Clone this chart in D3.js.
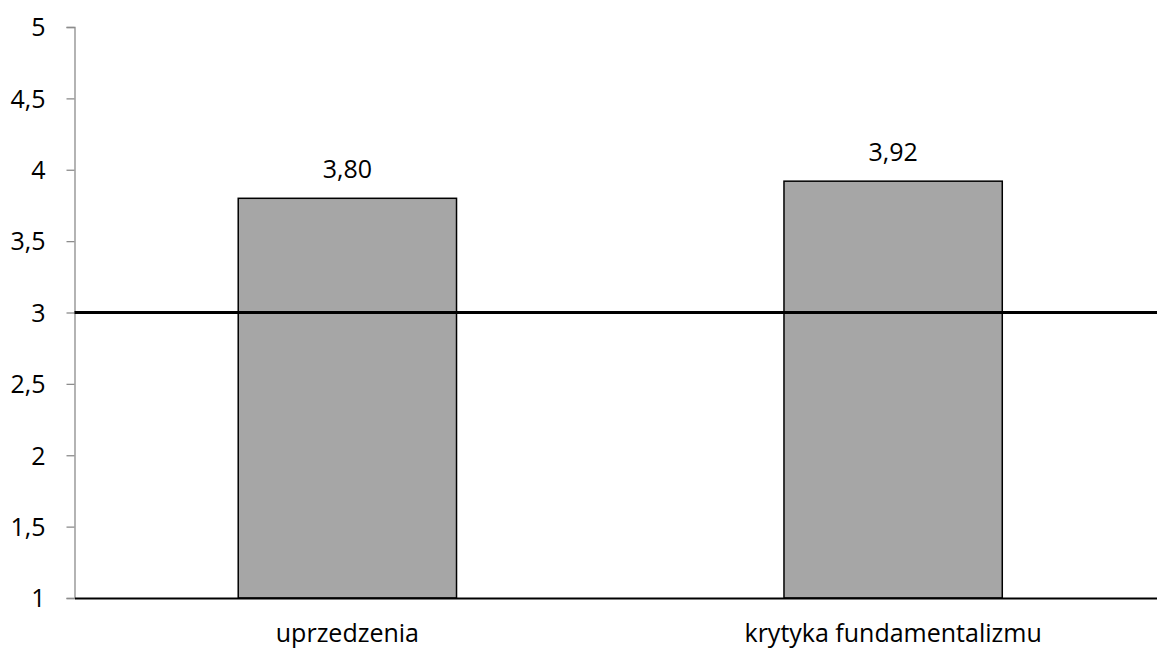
<!DOCTYPE html>
<html>
<head>
<meta charset="utf-8">
<script src="https://cdn.jsdelivr.net/npm/d3@7"></script>
<style>
  body { margin: 0; background: #fff; }
  text { font-family: "Open Sans", "Noto Sans", sans-serif; fill: #000; }
</style>
</head>
<body>
<div id="chart"></div>
<script>
const categories = ["uprzedzenia", "krytyka fundamentalizmu"];
const values = [3.80, 3.92];
const yTicks = [1, 1.5, 2, 2.5, 3, 3.5, 4, 4.5, 5];
const refValue = 3;

const W = 1157, H = 649;
const MARGIN = {top: 27, right: -9, bottom: 51, left: 74.5};
const width = W - MARGIN.left - MARGIN.right,
      height = H - MARGIN.top - MARGIN.bottom;
const FONT = "25px";

const fmt = v => d3.format(".2f")(v).replace(".", ",");
const fmtTick = v => String(v).replace(".", ",");

const svg = d3.select("#chart").append("svg")
    .attr("width", W)
    .attr("height", H);

const g = svg.append("g")
    .attr("transform", `translate(${MARGIN.left},${MARGIN.top})`);

var x = d3.scaleBand()
    .domain(categories)
    .range([0, width])
    .paddingInner(0.6)
    .paddingOuter(0.3);

var y = d3.scaleLinear()
    .domain([1, 5])
    .range([height, 0]);

// y axis
const yAxis = g.append("g")
    .call(d3.axisLeft(y).tickValues(yTicks).tickSize(8).tickPadding(21).tickFormat(fmtTick));
yAxis.select(".domain").attr("stroke", "#8c8c8c").attr("stroke-width", 1.3);
yAxis.selectAll(".tick line").attr("stroke", "#8c8c8c").attr("stroke-width", 1.3);
yAxis.selectAll(".tick text").style("font-size", FONT).attr("dy", "0.35em");

// bars
g.selectAll(".bar")
    .data(values)
    .enter()
    .append("rect")
    .attr("class", "bar")
    .attr("x", (d, i) => x(categories[i]))
    .attr("y", d => y(d))
    .attr("width", x.bandwidth())
    .attr("height", d => height - y(d))
    .attr("fill", "#a6a6a6")
    .attr("stroke", "#000")
    .attr("stroke-width", 1.5);

// value labels
g.selectAll(".val")
    .data(values)
    .enter()
    .append("text")
    .attr("x", (d, i) => x(categories[i]) + x.bandwidth() / 2)
    .attr("y", d => y(d) - 20)
    .attr("text-anchor", "middle")
    .style("font-size", FONT)
    .text(d => fmt(d));

// x axis
const xAxis = g.append("g")
    .attr("transform", `translate(0,${height})`)
    .call(d3.axisBottom(x).tickSize(0).tickPadding(26));
xAxis.select(".domain").attr("stroke", "#000").attr("stroke-width", 2);
xAxis.selectAll(".tick text").style("font-size", FONT).attr("dy", "0.71em");

// reference line at 3
g.append("line")
    .attr("x1", 0)
    .attr("x2", width)
    .attr("y1", y(refValue))
    .attr("y2", y(refValue))
    .attr("stroke", "#000")
    .attr("stroke-width", 3);
</script>
</body>
</html>
